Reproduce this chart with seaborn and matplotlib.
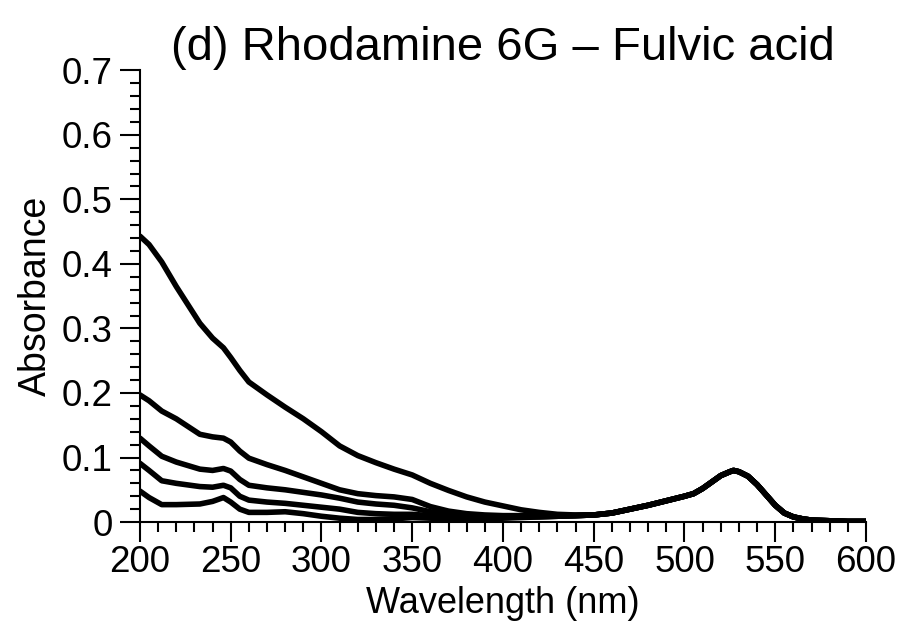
import numpy as np
import pandas as pd
import seaborn as sns
import matplotlib.pyplot as plt
from matplotlib.ticker import MultipleLocator

# --- data ---
wavelength = [200, 205, 212, 220, 233, 240, 246, 250, 255, 260, 270, 280, 290,
              300, 310, 320, 330, 340, 350, 360, 370, 380, 390, 400, 410, 420,
              430, 440]

abs_1 = [0.443, 0.430, 0.403, 0.365, 0.308, 0.285, 0.270, 0.255, 0.235, 0.217,
         0.197, 0.178, 0.160, 0.140, 0.118, 0.103, 0.092, 0.082, 0.073, 0.060,
         0.049, 0.039, 0.031, 0.025, 0.019, 0.015, 0.012, 0.011]
abs_2 = [0.197, 0.188, 0.172, 0.160, 0.136, 0.132, 0.130, 0.124, 0.110, 0.099,
         0.089, 0.080, 0.070, 0.060, 0.050, 0.044, 0.041, 0.039, 0.035, 0.024,
         0.017, 0.013, 0.011, 0.010, 0.010, 0.010, 0.010, 0.010]
abs_3 = [0.130, 0.118, 0.102, 0.093, 0.082, 0.080, 0.083, 0.079, 0.066, 0.057,
         0.053, 0.050, 0.046, 0.042, 0.037, 0.031, 0.028, 0.026, 0.022, 0.016,
         0.012, 0.010, 0.009, 0.009, 0.009, 0.009, 0.009, 0.010]
abs_4 = [0.091, 0.080, 0.064, 0.060, 0.055, 0.054, 0.057, 0.053, 0.040, 0.034,
         0.031, 0.029, 0.026, 0.023, 0.020, 0.015, 0.013, 0.012, 0.012, 0.010,
         0.008, 0.007, 0.007, 0.007, 0.008, 0.008, 0.009, 0.010]
abs_5 = [0.048, 0.038, 0.027, 0.027, 0.028, 0.032, 0.038, 0.031, 0.020, 0.015,
         0.015, 0.016, 0.013, 0.009, 0.006, 0.004, 0.004, 0.005, 0.007, 0.006,
         0.005, 0.005, 0.005, 0.006, 0.007, 0.008, 0.009, 0.010]

# all curves overlap from ~450 nm on (rhodamine 6G band)
tail_wavelength = [450, 460, 470, 480, 490, 500, 505, 510, 515, 520, 525, 527,
                   530, 535, 540, 545, 550, 555, 560, 565, 570, 580, 590, 600]
tail_absorbance = [0.011, 0.014, 0.020, 0.026, 0.033, 0.040, 0.044, 0.052,
                   0.062, 0.072, 0.078, 0.080, 0.078, 0.071, 0.058, 0.042,
                   0.026, 0.014, 0.008, 0.005, 0.003, 0.002, 0.001, 0.001]

series = [abs_1, abs_2, abs_3, abs_4, abs_5]
frames = []
for i, vals in enumerate(series):
    frames.append(pd.DataFrame({
        'wl': wavelength + tail_wavelength,
        'A': vals + tail_absorbance,
        'curve': 'c%d' % (i + 1),
    }))
df = pd.concat(frames, ignore_index=True)

# --- plot ---
sns.set_style('ticks')
plt.rcParams['font.family'] = ['Liberation Sans', 'DejaVu Sans']
plt.rcParams['text.color'] = 'black'
plt.rcParams['axes.labelcolor'] = 'black'

fig = plt.figure(figsize=(9.03, 6.39), dpi=100)
ax = fig.add_axes([0.155, 0.183, 0.804, 0.707])

sns.lineplot(data=df, x='wl', y='A', hue='curve', palette=['black'] * 5,
             linewidth=4.0, legend=False, sort=False, ax=ax)

ax.set_xlim(200, 600)
ax.set_ylim(0, 0.7)
ax.xaxis.set_major_locator(MultipleLocator(50))
ax.xaxis.set_minor_locator(MultipleLocator(10))
ax.yaxis.set_minor_locator(MultipleLocator(0.02))
ax.set_yticks(np.arange(0, 0.71, 0.1))
ax.set_yticklabels(['0'] + ['%.1f' % v for v in np.arange(0.1, 0.71, 0.1)])

ax.tick_params(which='major', direction='out', length=14.5, width=1.5,
               color='black', labelsize=26.5, labelcolor='black')
ax.tick_params(which='minor', direction='out', length=7.5, width=1.5,
               color='black')
ax.tick_params(axis='x', which='major', pad=2)
ax.tick_params(axis='y', which='major', pad=5)

for side in ['top', 'right']:
    ax.spines[side].set_visible(False)
for side in ['left', 'bottom']:
    ax.spines[side].set_linewidth(1.5)
    ax.spines[side].set_color('black')

ax.set_xlabel('Wavelength (nm)', fontsize=26, labelpad=4, color='black')
ax.set_ylabel('Absorbance', fontsize=27, labelpad=6, color='black')
ax.set_title('(d) Rhodamine 6G \u2013 Fulvic acid', fontsize=34, pad=6,
             color='black')

plt.savefig('out.png', dpi=100)
plt.close()
